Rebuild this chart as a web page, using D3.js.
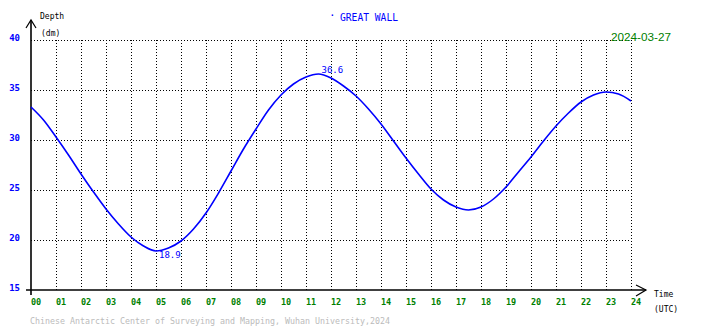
<!DOCTYPE html>
<html>
<head>
<meta charset="utf-8">
<script src="https://cdn.jsdelivr.net/npm/d3@7"></script>
<style>
  html, body { margin: 0; padding: 0; background: #fff; }
  svg { display: block; }
  text { font-family: "DejaVu Sans Mono", monospace; }
</style>
</head>
<body>
<svg id="chart" width="710" height="328"></svg>
<script>
// Tide record, GREAT WALL station, half-hourly depth (dm)
const hours = d3.range(0, 24.01, 0.5);
const depth = [
  33.3, 32.0, 30.3, 28.5, 26.6, 24.8, 23.1, 21.6, 20.3, 19.4,
  18.9, 19.2, 19.9, 21.1, 22.7, 24.7, 26.9, 29.1, 31.1, 33.0,
  34.5, 35.6, 36.3, 36.6, 36.2, 35.4, 34.4, 33.1, 31.6, 29.9,
  28.2, 26.6, 25.1, 24.0, 23.3, 23.0, 23.3, 24.1, 25.3, 26.8,
  28.3, 29.9, 31.4, 32.7, 33.8, 34.5, 34.8, 34.6, 33.9
];
const hourTicks = d3.range(0, 25);
const hourLabels = hourTicks.map(h => String(h).padStart(2, "0"));
const depthTicks = [15, 20, 25, 30, 35, 40];
const stationName = "GREAT WALL";
const dateLabel = "2024-03-27";
const footer = "Chinese Antarctic Center of Surveying and Mapping, Wuhan University,2024";

const svg = d3.select("#chart");
const x = d3.scaleLinear().domain([0, 24]).range([31, 631]);
const y = d3.scaleLinear().domain([15, 40]).range([290, 40]);

// dotted grid
const grid = svg.append("g")
  .attr("stroke", "#000").attr("stroke-width", 1)
  .attr("stroke-dasharray", "1,2").attr("shape-rendering", "crispEdges");
grid.selectAll(".gv").data(hourTicks.slice(1)).join("line")
  .attr("x1", d => Math.round(x(d)) + 0.5).attr("x2", d => Math.round(x(d)) + 0.5)
  .attr("y1", y(40)).attr("y2", y(15));
grid.selectAll(".gh").data(depthTicks.slice(1)).join("line")
  .attr("x1", x(0)).attr("x2", x(24))
  .attr("y1", d => Math.round(y(d)) + 0.5).attr("y2", d => Math.round(y(d)) + 0.5);

// axes
const ax = svg.append("g").attr("stroke", "#000").attr("fill", "none").attr("stroke-width", 1.6);
ax.append("line").attr("x1", x(0)).attr("x2", x(0)).attr("y1", 20).attr("y2", 295);
ax.append("line").attr("x1", 26).attr("x2", 646).attr("y1", y(15)).attr("y2", y(15));
ax.append("path").attr("stroke-width", 1.2).attr("d", `M${x(0) - 5},28 L${x(0)},20 L${x(0) + 5},28`);
ax.append("path").attr("stroke-width", 1.2).attr("d", `M636,285 L646,${y(15)} L636,296`);

// tick labels
svg.append("g").selectAll("text").data(depthTicks).join("text")
  .attr("x", 20).attr("y", d => y(d) + 1)
  .attr("text-anchor", "end").attr("font-size", 9).attr("font-weight", "bold")
  .attr("fill", "#0000ff").text(d => d);
svg.append("g").selectAll("text").data(hourTicks).join("text")
  .attr("x", d => x(d)).attr("y", 305)
  .attr("font-size", 8.5).attr("font-weight", "bold")
  .attr("fill", "#008000").text((d, i) => hourLabels[i]);

// axis titles
svg.append("text").attr("x", 40).attr("y", 19).attr("font-size", 8).attr("fill", "#000").text("Depth");
svg.append("text").attr("x", 41).attr("y", 36).attr("font-size", 8).attr("fill", "#000").text("(dm)");
svg.append("text").attr("x", 654).attr("y", 297).attr("font-size", 8).attr("fill", "#000").text("Time");
svg.append("text").attr("x", 654).attr("y", 312).attr("font-size", 8).attr("fill", "#000").text("(UTC)");

// header
svg.append("text").attr("x", 329).attr("y", 19).attr("font-size", 11).attr("fill", "#0000ff").text("·");
svg.append("text").attr("x", 340).attr("y", 21).attr("font-size", 11)
  .attr("textLength", 58).attr("lengthAdjust", "spacingAndGlyphs")
  .attr("fill", "#0000ff").text(stationName);
svg.append("text").attr("x", 611).attr("y", 41)
  .style("font-family", "'Liberation Sans', Arial, sans-serif").attr("font-size", 11.5)
  .attr("textLength", 60).attr("lengthAdjust", "spacingAndGlyphs")
  .attr("fill", "#008000").text(dateLabel);

// tide curve
const pts = hours.map((h, i) => [h, depth[i]]);
svg.append("path").datum(pts)
  .attr("fill", "none").attr("stroke", "#0000ff").attr("stroke-width", 1.6)
  .attr("d", d3.line().x(d => x(d[0])).y(d => y(d[1])).curve(d3.curveMonotoneX));

// extremes
const iMax = d3.maxIndex(depth), iMin = d3.minIndex(depth);
svg.append("text").attr("x", x(hours[iMax]) + 3).attr("y", y(depth[iMax]) - 1)
  .attr("font-size", 9).attr("fill", "#0000ff").text(depth[iMax].toFixed(1));
svg.append("text").attr("x", x(hours[iMin]) + 3).attr("y", y(depth[iMin]) + 7)
  .attr("font-size", 9).attr("fill", "#0000ff").text(depth[iMin].toFixed(1));

// footer
svg.append("text").attr("x", 30).attr("y", 324).attr("font-size", 8.3)
  .attr("textLength", 360).attr("lengthAdjust", "spacingAndGlyphs")
  .attr("fill", "#bbbbbb").text(footer);
</script>
</body>
</html>
